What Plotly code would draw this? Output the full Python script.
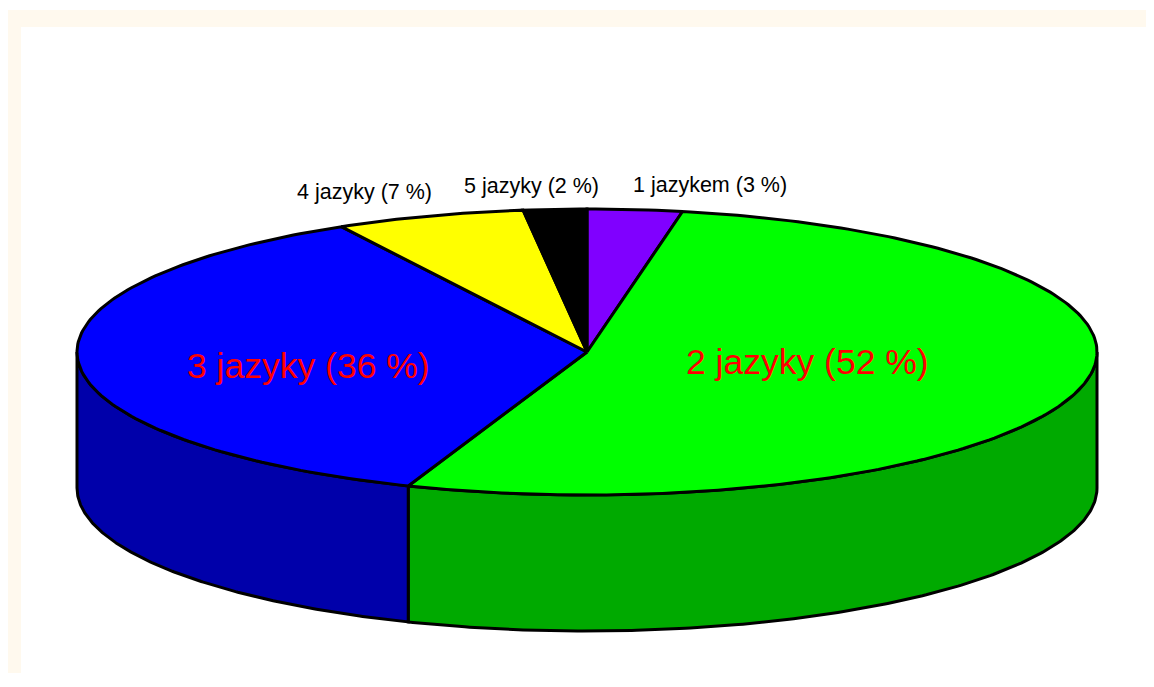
import numpy as np
import plotly.graph_objects as go

# ---- data ----
categories = ["1 jazykem", "2 jazyky", "3 jazyky", "4 jazyky", "5 jazyky"]
values = [3.0, 52.7, 36.3, 6.0, 2.0]
label_texts = ["1 jazykem (3 %)", "2 jazyky (52 %)", "3 jazyky (36 %)",
               "4 jazyky (7 %)", "5 jazyky (2 %)"]

# ---- styles / layout ----
top_colors = ["#8000FF", "#00FF00", "#0000FF", "#FFFF00", "#000000"]
side_colors = ["#5500AA", "#00AA00", "#0000AA", "#AAAA00", "#000000"]
W, H = 1154, 687
OFF = 8  # page body margin compensation
FW, FH = W - 2 * OFF, H - 2 * OFF - 6  # figure size that fits the page
CX, CY, RX, RY, DEPTH = 587, 352, 510, 143, 136
# label placements (pixel positions, font sizes, colours)
label_pos = [(710, 185), (807, 362), (308, 366), (364, 192), (531, 186)]
label_size = [21.5, 35.5, 35.5, 21.5, 21.5]
label_color = ["#000000", "#FF0000", "#FF0000", "#000000", "#000000"]


def pt(t):
    th = 2 * np.pi * np.asarray(t)
    return CX + RX * np.sin(th), CY - RY * np.cos(th)


total = float(sum(values))
fr = np.cumsum([0.0] + [v / total for v in values])

fig = go.Figure()

# side walls (front half only)
for i in range(len(values)):
    a, b = max(fr[i], 0.25), min(fr[i + 1], 0.75)
    if b <= a:
        continue
    ts = np.linspace(a, b, 200)
    x, y = pt(ts)
    xs = np.concatenate([x, x[::-1], x[:1]])
    ys = np.concatenate([y, y[::-1] + DEPTH, y[:1]])
    fig.add_trace(go.Scatter(x=xs, y=ys, mode="lines", fill="toself",
                             fillcolor=side_colors[i],
                             line=dict(color="black", width=3),
                             hoverinfo="skip", showlegend=False))

# top slices
for i in range(len(values)):
    n = max(int(400 * (fr[i + 1] - fr[i])), 10)
    ts = np.linspace(fr[i], fr[i + 1], n)
    x, y = pt(ts)
    xs = np.concatenate([[CX], x, [CX]])
    ys = np.concatenate([[CY], y, [CY]])
    fig.add_trace(go.Scatter(x=xs, y=ys, mode="lines", fill="toself",
                             fillcolor=top_colors[i],
                             line=dict(color="black", width=3),
                             hoverinfo="skip", showlegend=False,
                             name=categories[i]))

for i, txt in enumerate(label_texts):
    fig.add_annotation(x=label_pos[i][0], y=label_pos[i][1], text=txt,
                       showarrow=False, xanchor="center", yanchor="middle",
                       font=dict(family="Liberation Sans, Arial, sans-serif",
                                 size=label_size[i], color=label_color[i]))

fig.update_layout(
    width=FW, height=FH, autosize=False,
    margin=dict(l=0, r=0, t=0, b=0),
    paper_bgcolor="white", plot_bgcolor="white",
    xaxis=dict(range=[OFF, OFF + FW], visible=False, fixedrange=True),
    yaxis=dict(range=[OFF + FH, OFF], visible=False, fixedrange=True),
    shapes=[
        dict(type="rect", xref="x", yref="y", x0=8, y0=10, x1=W + 50, y1=H + 50,
             fillcolor="#FFF9EE", line=dict(width=0), layer="below"),
        dict(type="rect", xref="x", yref="y", x0=21, y0=27, x1=W + 60, y1=H + 60,
             fillcolor="white", line=dict(width=0), layer="below"),
    ],
)

fig.write_html("out.html", config={"displayModeBar": False})
